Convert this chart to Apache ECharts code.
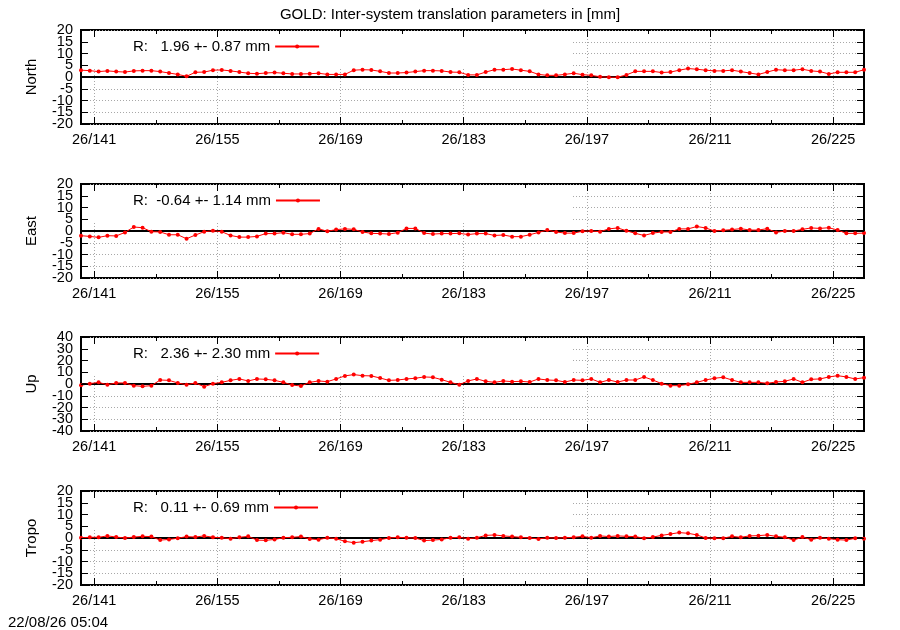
<!DOCTYPE html>
<html>
<head>
<meta charset="utf-8">
<title>GOLD: Inter-system translation parameters</title>
<script src="https://cdn.jsdelivr.net/npm/echarts@6/dist/echarts.min.js"></script>
<style>
    html, body { margin: 0; padding: 0; background: #fff; }
    #div_chart { width: 900px; height: 630px; }
</style>
</head>
<body>
<div id="div_chart"></div>
<script>
// day of year (26/ddd), one solution per day
var epochs = [
    139.5, 140.5, 141.5, 142.5, 143.5, 144.5, 145.5, 146.5, 147.5, 148.5,
    149.5, 150.5, 151.5, 152.5, 153.5, 154.5, 155.5, 156.5, 157.5, 158.5,
    159.5, 160.5, 161.5, 162.5, 163.5, 164.5, 165.5, 166.5, 167.5, 168.5,
    169.5, 170.5, 171.5, 172.5, 173.5, 174.5, 175.5, 176.5, 177.5, 178.5,
    179.5, 180.5, 181.5, 182.5, 183.5, 184.5, 185.5, 186.5, 187.5, 188.5,
    189.5, 190.5, 191.5, 192.5, 193.5, 194.5, 195.5, 196.5, 197.5, 198.5,
    199.5, 200.5, 201.5, 202.5, 203.5, 204.5, 205.5, 206.5, 207.5, 208.5,
    209.5, 210.5, 211.5, 212.5, 213.5, 214.5, 215.5, 216.5, 217.5, 218.5,
    219.5, 220.5, 221.5, 222.5, 223.5, 224.5, 225.5, 226.5, 227.5, 228.5
];
var north = [
    2.9, 2.7, 2.3, 2.6, 2.3, 2.1, 2.6, 2.7, 2.7, 2.3,
    1.7, 1.1, 0.3, 2.0, 2.1, 2.9, 3.0, 2.6, 2.1, 1.6,
    1.4, 1.7, 1.9, 1.6, 1.3, 1.3, 1.4, 1.6, 1.1, 1.1,
    1.1, 2.9, 3.1, 3.0, 2.4, 1.7, 1.7, 1.9, 2.3, 2.7,
    2.7, 2.6, 2.1, 2.0, 0.9, 0.9, 2.1, 3.1, 3.1, 3.4,
    2.9, 2.4, 1.1, 0.7, 0.7, 1.1, 1.6, 1.0, 0.7, 0.1,
    -0.1, -0.1, 0.9, 2.4, 2.4, 2.4, 1.9, 2.1, 2.9, 3.6,
    3.3, 2.9, 2.6, 2.6, 2.9, 2.3, 1.7, 1.1, 2.1, 3.1,
    2.9, 2.9, 3.3, 2.6, 2.3, 1.3, 2.0, 2.0, 2.0, 3.1
];
var east = [
    -2.0, -2.3, -2.7, -2.0, -2.1, -0.6, 1.7, 1.4, -0.3, -0.4,
    -1.6, -1.6, -3.3, -1.7, -0.3, 0.1, -0.3, -1.9, -2.6, -2.6,
    -2.3, -1.1, -1.1, -0.7, -1.4, -1.4, -1.1, 0.9, -0.1, 0.6,
    0.9, 0.7, -0.4, -1.0, -1.1, -1.3, -0.7, 1.1, 1.1, -0.9,
    -1.3, -1.1, -1.1, -1.0, -1.5, -1.1, -1.1, -1.9, -1.7, -2.4,
    -2.4, -1.6, -0.6, 0.4, -0.4, -0.9, -0.9, -0.1, 0.0, -0.3,
    0.9, 1.3, 0.1, -1.0, -1.9, -0.9, -0.4, -0.4, 0.9, 0.9,
    1.9, 1.3, 0.0, 0.3, 0.6, 1.0, 0.4, 0.4, 1.0, -0.6,
    0.0, 0.0, 0.7, 1.3, 1.1, 1.4, 0.4, -1.0, -1.0, -0.9
];
var up = [
    -1.1, 0.3, 1.4, -0.6, 0.9, 0.9, -1.4, -2.0, -1.4, 3.4,
    3.1, 0.9, -0.6, 0.9, -2.3, 0.3, 1.4, 3.1, 4.3, 2.6,
    4.3, 4.0, 3.1, 1.4, -0.9, -1.7, 1.4, 2.6, 2.0, 4.3,
    6.9, 8.0, 7.1, 6.9, 5.1, 3.1, 3.4, 4.3, 4.9, 6.0,
    5.7, 3.7, 1.4, -0.6, 2.6, 4.3, 2.3, 1.4, 2.6, 2.0,
    2.3, 1.7, 4.3, 3.4, 3.1, 1.7, 3.4, 3.1, 4.3, 1.4,
    3.4, 1.7, 3.4, 3.4, 6.0, 3.4, 0.3, -1.4, -1.4, -0.3,
    1.4, 3.4, 4.9, 5.7, 3.4, 1.4, 1.4, 1.4, 0.6, 1.7,
    2.3, 4.3, 1.4, 4.0, 4.3, 6.0, 7.1, 6.0, 4.3, 5.4
];
var tropo = [
    0.1, 0.3, 0.3, 0.9, 0.4, 0.0, 0.4, 0.7, 0.6, -0.9,
    -0.6, -0.1, 0.6, 0.4, 0.9, 0.3, 0.1, -0.3, 0.3, 0.7,
    -0.9, -1.0, -0.6, 0.1, 0.3, 0.6, -0.4, -0.7, 0.1, -0.3,
    -1.4, -2.0, -1.6, -1.1, -0.7, 0.0, 0.3, 0.1, 0.0, -1.1,
    -0.9, -0.6, 0.1, 0.3, -0.3, 0.1, 1.1, 1.3, 0.9, 0.6,
    0.3, 0.0, -0.4, 0.1, 0.0, 0.1, 0.3, 0.7, 0.1, 0.9,
    0.6, 0.9, 0.7, 0.6, -0.1, 0.4, 1.1, 1.7, 2.3, 2.0,
    1.3, 0.0, -0.1, -0.1, 0.7, 0.3, 0.9, 1.0, 1.3, 0.7,
    0.3, -0.9, 0.4, -0.7, 0.1, -0.3, -0.7, -0.9, -0.1, -0.3
];
var panelNames = ['North', 'East', 'Up', 'Tropo'];
var panelKeys = ['R:   1.96 +- 0.87 mm', 'R:  -0.64 +- 1.14 mm', 'R:   2.36 +- 2.30 mm', 'R:   0.11 +- 0.69 mm'];
var yTicksSmall = [-20, -15, -10, -5, 0, 5, 10, 15, 20];
var yTicksUp = [-40, -30, -20, -10, 0, 10, 20, 30, 40];
var yTicks = [yTicksSmall, yTicksSmall, yTicksUp, yTicksSmall];
var zeroLine = [0];
var majorDays = [141, 155, 169, 183, 197, 211, 225];
var minorDays = [148, 162, 176, 190, 204, 218];
var dayRange = [139.5, 228.5];
var titleText = 'GOLD: Inter-system translation parameters in [mm]';
var stampText = '22/08/26 05:04';

var appGoldChart = {
    el: 'div_chart',
    chart: null,
    FONT: '"Liberation Sans", Arial, sans-serif',
    panelTop: [30, 184, 337, 491],
    panelHeight: 94,
    plotLeft: 81,
    plotRight: 36,
    keyRight: 573,
    init: function init() {
        var that = this;
        that.chart = echarts.init(document.getElementById(that.el), null, { renderer: 'canvas' });
        that.chart.setOption(that.getOption());
    },
    //点线坐标
    pairs: function pairs(values) {
        var out = [];
        for (var i = 0; i < values.length; i++) {
            out.push([epochs[i], values[i]]);
        }
        return out;
    },
    //隔一个取一个刻度, 防止标签被自动隐藏
    every2: function every2(list, start) {
        var out = [];
        for (var i = start; i < list.length; i += 2) {
            out.push(list[i]);
        }
        return out;
    },
    getOption: function getOption() {
        var that = this;
        var series = [north, east, up, tropo];
        var grids = [], xAxes = [], yAxes = [], seriesList = [], legends = [], boxes = [];
        var dotted = { show: true, lineStyle: { color: '#a8a8a8', width: 1, type: [1, 2] } };
        var tickStyle = { color: '#000', width: 1 };
        var noLine = { show: false, onZero: false };
        var labelFont = { color: '#000', fontSize: 14.5, fontFamily: that.FONT };
        for (var g = 0; g < 4; g++) {
            var top = that.panelTop[g];
            var ticks = yTicks[g];
            grids.push({
                left: that.plotLeft, right: that.plotRight, top: top, height: that.panelHeight,
                show: true, borderColor: '#000', borderWidth: 2, backgroundColor: 'transparent'
            });
            var xBase = xAxes.length;
            var xCommon = { type: 'value', gridIndex: g, min: dayRange[0], max: dayRange[1], axisLine: noLine, splitLine: { show: false } };
            // 下方主刻度 + 标签
            xAxes.push(Object.assign({}, xCommon, {
                position: 'bottom', z: 3,
                axisTick: { show: true, inside: true, length: 7, customValues: majorDays, lineStyle: tickStyle },
                axisLabel: Object.assign({
                    show: true, customValues: majorDays, margin: 8,
                    formatter: function (v) { return '26/' + v; }
                }, labelFont)
            }));
            // 下方次刻度
            xAxes.push(Object.assign({}, xCommon, {
                position: 'bottom', z: 3,
                axisTick: { show: true, inside: true, length: 4, customValues: minorDays, lineStyle: tickStyle },
                axisLabel: { show: false }
            }));
            // 上方镜像刻度
            xAxes.push(Object.assign({}, xCommon, {
                position: 'top', z: 3,
                axisTick: { show: true, inside: true, length: 7, customValues: majorDays, lineStyle: tickStyle },
                axisLabel: { show: false }
            }));
            xAxes.push(Object.assign({}, xCommon, {
                position: 'top', z: 3,
                axisTick: { show: true, inside: true, length: 4, customValues: minorDays, lineStyle: tickStyle },
                axisLabel: { show: false }
            }));
            // 竖网格线
            xAxes.push(Object.assign({}, xCommon, {
                position: 'bottom', z: 0,
                axisTick: { show: false, customValues: majorDays },
                axisLabel: { show: false, customValues: majorDays },
                splitLine: dotted
            }));
            var yBase = yAxes.length;
            var yCommon = {
                type: 'value', gridIndex: g, min: ticks[0], max: ticks[ticks.length - 1],
                axisLine: noLine, splitLine: { show: false }
            };
            yAxes.push(Object.assign({}, yCommon, {
                position: 'left', z: 3,
                name: panelNames[g], nameLocation: 'middle', nameGap: 42,
                nameTextStyle: { color: '#000', fontSize: 15, fontFamily: that.FONT },
                axisTick: { show: true, inside: true, length: 7, customValues: ticks, lineStyle: tickStyle },
                axisLabel: Object.assign({
                    show: true, margin: 8, customValues: that.every2(ticks, 0),
                    showMinLabel: true, showMaxLabel: true, hideOverlap: false
                }, labelFont)
            }));
            yAxes.push(Object.assign({}, yCommon, {
                position: 'left', z: 3,
                axisTick: { show: false },
                axisLabel: Object.assign({
                    show: true, margin: 8, customValues: that.every2(ticks, 1), hideOverlap: false
                }, labelFont)
            }));
            yAxes.push(Object.assign({}, yCommon, {
                position: 'right', z: 3,
                axisTick: { show: true, inside: true, length: 7, customValues: ticks, lineStyle: tickStyle },
                axisLabel: { show: false }
            }));
            // 横网格线
            yAxes.push(Object.assign({}, yCommon, {
                position: 'left', z: 0,
                axisTick: { show: false, customValues: ticks },
                axisLabel: { show: false, customValues: ticks },
                splitLine: dotted
            }));
            // 零线 (在数据线之下)
            yAxes.push(Object.assign({}, yCommon, {
                position: 'left', z: 0,
                axisTick: { show: false, customValues: zeroLine },
                axisLabel: { show: false, customValues: zeroLine },
                splitLine: { show: true, lineStyle: { color: '#000', width: 2, type: 'solid' } }
            }));
            seriesList.push({
                name: panelKeys[g],
                type: 'line',
                xAxisIndex: xBase,
                yAxisIndex: yBase,
                data: that.pairs(series[g]),
                symbol: 'circle',
                symbolSize: 4,
                z: 2,
                lineStyle: { color: '#ff0000', width: 1 },
                itemStyle: { color: '#ff0000' },
                animation: false
            });
            legends.push({
                data: [panelKeys[g]],
                left: 133,
                top: top + 9,
                padding: 0,
                align: 'right',
                itemWidth: 44,
                itemHeight: 5,
                selectedMode: false,
                textStyle: { color: '#000', fontSize: 15, fontFamily: that.FONT }
            });
            // key 区域不透明
            boxes.push({
                type: 'rect', z: 1, silent: true,
                shape: { x: that.plotLeft + 1, y: top + 1, width: that.keyRight - that.plotLeft - 1, height: 38 },
                style: { fill: '#fff' }
            });
        }
        return {
            backgroundColor: '#fff',
            animation: false,
            title: [{
                text: titleText, left: 'center', top: 7, padding: 0,
                textStyle: { color: '#000', fontSize: 15, fontWeight: 'normal', fontFamily: that.FONT }
            }, {
                text: stampText, left: 8, top: 615, padding: 0,
                textStyle: { color: '#000', fontSize: 15, fontWeight: 'normal', fontFamily: that.FONT }
            }],
            legend: legends,
            grid: grids,
            xAxis: xAxes,
            yAxis: yAxes,
            series: seriesList,
            graphic: boxes
        };
    }
};
window.onload = function () {
    appGoldChart.init();
};
</script>
</body>
</html>
